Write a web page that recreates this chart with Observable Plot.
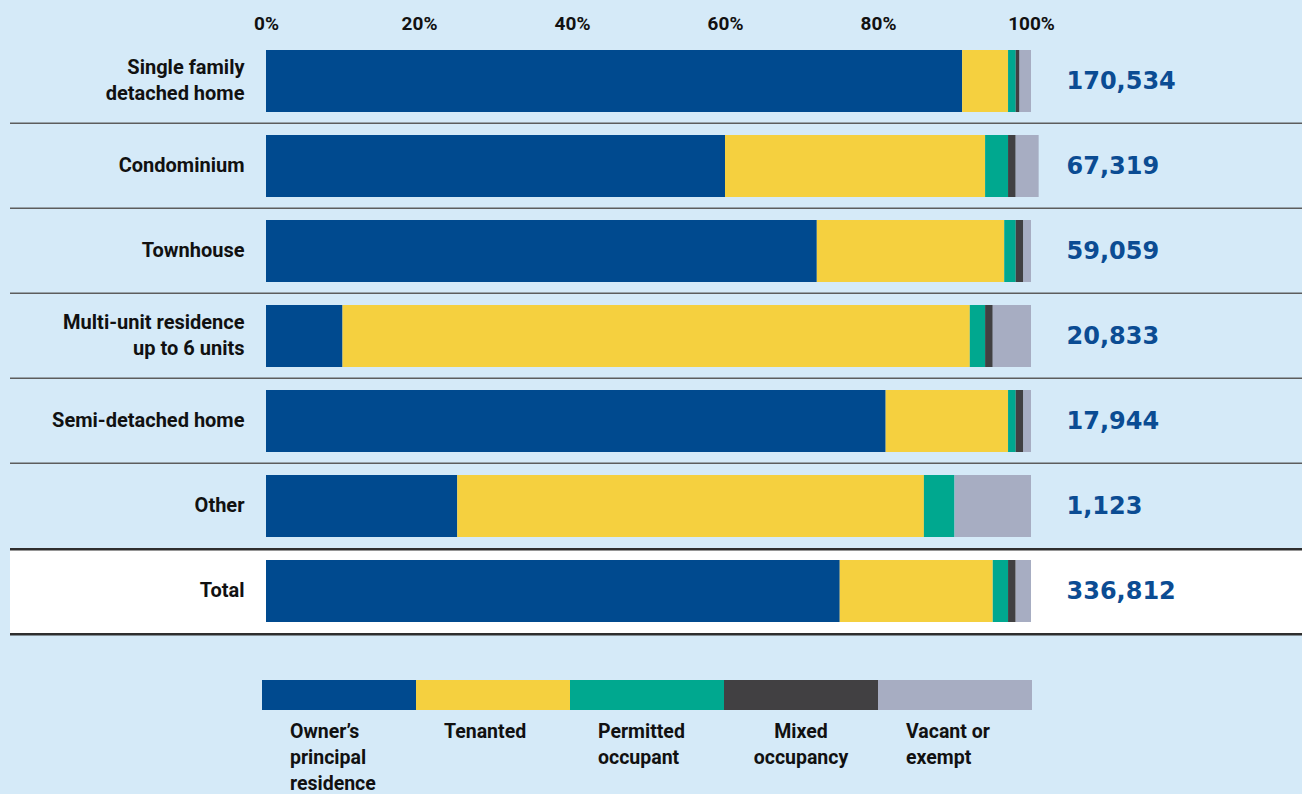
<!DOCTYPE html>
<html>
<head>
<meta charset="utf-8">
<script src="https://cdn.jsdelivr.net/npm/d3@7"></script>
<script src="https://cdn.jsdelivr.net/npm/@observablehq/plot@0.6"></script>
<style>
  html, body { margin: 0; padding: 0; background: #d5eaf8; }
  body { width: 1302px; height: 794px; overflow: hidden; font-family: Roboto, "Open Sans", sans-serif; }
  #legend { display: flex; margin-left: 262px; margin-top: 30px; }
  .item { width: 154px; }
  .sw { height: 30px; }
  .lab { margin-top: 9px; font-size: 19.5px; font-weight: 700; line-height: 26px; color: #111; padding-left: 28px; }
  .lab.center { padding-left: 0; text-align: center; }
</style>
</head>
<body>
<div id="chart"></div>
<div id="legend"></div>
<script>
const categories = ["Single family\ndetached home", "Condominium", "Townhouse", "Multi-unit residence\nup to 6 units", "Semi-detached home", "Other", "Total"];
const types = ["Owner’s principal residence", "Tenanted", "Permitted occupant", "Mixed occupancy", "Vacant or exempt"];
const legendLabels = ["Owner’s\nprincipal\nresidence", "Tenanted", "Permitted\noccupant", "Mixed\noccupancy", "Vacant or\nexempt"];
const colors = ["#004a8f", "#f5d03f", "#00a88f", "#414042", "#a7adc2"];
const owner     = [91, 60, 72, 10, 81, 25, 75];
const tenanted  = [6, 34, 24.5, 82, 16, 61, 20];
const permitted = [1, 3, 1.5, 2, 1, 4, 2];
const mixed     = [0.5, 1, 1, 1, 1, 0, 1];
const vacant    = [1.5, 3, 1, 5, 1, 10, 2];
const counts    = [170534, 67319, 59059, 20833, 17944, 1123, 336812];
const xTicks    = [0, 20, 40, 60, 80, 100];

const series = [owner, tenanted, permitted, mixed, vacant];
const rows = [];
categories.forEach((c, i) => types.forEach((t, j) => rows.push({cat: c, type: t, value: series[j][i]})));
const countRows = categories.map((c, i) => ({cat: c, n: counts[i]}));

const W = 1302, H = 650, mT = 37, mB = 15, mL = 266, mR = 271;
const step = (H - mT - mB) / categories.length;

const plot = Plot.plot({
  width: W, height: H,
  marginTop: mT, marginBottom: mB, marginLeft: mL, marginRight: mR,
  style: {background: "transparent", fontFamily: "Roboto, 'Open Sans', sans-serif", fontSize: "19px", fontWeight: "700", color: "#111"},
  x: {domain: [0, 100], axis: null, label: null},
  y: {domain: categories, paddingInner: 0.27, paddingOuter: 0.135, axis: null, label: null},
  color: {domain: types, range: colors},
  marks: [
    Plot.barX(["Total"], {y: d => d, x: () => 100, fill: "white", insetLeft: -(mL - 10), insetRight: -mR, insetTop: -step * 0.135 - 0.5, insetBottom: -step * 0.135 - 1}),
    Plot.ruleY(categories.slice(0, 5), {y: d => d, dy: step / 2 - 1, stroke: "#5d5d5d", strokeWidth: 1.5, insetLeft: -(mL - 10), insetRight: -mR}),
    Plot.ruleY(categories.slice(5), {y: d => d, dy: step / 2, stroke: "#2e2e2e", strokeWidth: 2.5, insetLeft: -(mL - 10), insetRight: -mR}),
    Plot.barX(rows, {x: "value", y: "cat", fill: "type", order: types, inset: 0}),
    Plot.axisX({anchor: "top", ticks: xTicks, tickFormat: d => d + "%", tickSize: 0, tickPadding: 8, fontSize: 19, fontWeight: 700, label: null}),
    Plot.axisY({tickSize: 0, tickPadding: 22, fontSize: 20, fontWeight: 700, lineHeight: 1.3, dy: -3, label: null}),
    Plot.text(countRows, {y: "cat", text: d => d3.format(",")(d.n), frameAnchor: "right", dx: 35, textAnchor: "start", fill: "#0b4c93", fontSize: 24, fontWeight: 700, fontFamily: "DejaVu Sans"})
  ]
});
document.getElementById("chart").appendChild(plot);

const legend = d3.select("#legend");
types.forEach((t, i) => {
  const it = legend.append("div").attr("class", "item");
  it.append("div").attr("class", "sw").style("background", colors[i]);
  const lab = it.append("div").attr("class", "lab" + (i === 3 ? " center" : ""));
  legendLabels[i].split("\n").forEach(l => lab.append("div").text(l));
});
</script>
</body>
</html>
